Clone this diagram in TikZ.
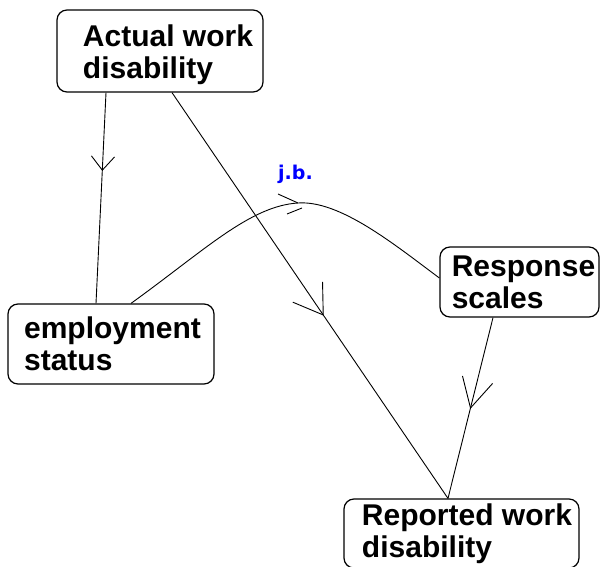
\documentclass[tikz,border=0pt]{standalone}
\usepackage{fontspec}
\setmainfont{Liberation Sans}
\newfontfamily\jbfont{DejaVu Sans}
\usetikzlibrary{decorations.markings,calc}
\begin{document}
\begin{tikzpicture}[x=1pt,y=-1pt,
  box/.style={draw, line width=1.2pt, rounded corners=10pt, inner sep=0pt, align=left,
    font=\fontsize{30}{32}\selectfont\bfseries},
  conn/.style={line width=0.9pt},
  barb/.style n args={3}{postaction={decorate},
    decoration={markings, mark=at position #1 with {\draw[line width=0.9pt] (180-#2:#3pt) -- (0,0) -- (180+#2:#3pt);}}},
]
\useasboundingbox (0,0) rectangle (600,567);

\node[box, minimum width=206pt, minimum height=82pt] (aw) at (160,51)
  {\hspace*{16pt}\rule{0pt}{30pt}Actual work\\\hspace*{16pt}disability};
\node[box, minimum width=206pt, minimum height=80pt] (es) at (111,344)
  {\hspace*{3pt}employment\\\hspace*{3pt}status};
\node[box, minimum width=159pt, minimum height=70pt] (rs) at (519.5,282)
  {\hspace*{8pt}Response\\\hspace*{8pt}scales};
\node[box, minimum width=235pt, minimum height=69pt] (rw) at (461.5,533.5)
  {\hspace*{11pt}Reported work\\\hspace*{11pt}disability};

\draw[conn, barb={0.368}{40}{18}] ([xshift=-54pt]aw.south) -- ([xshift=-15pt]es.north);
\draw[conn, barb={0.548}{33}{33}] ([xshift=12pt]aw.south) -- ([xshift=-13.5pt]rw.north);
\draw[conn, barb={0.5}{28}{33}] ([xshift=-26.5pt]rs.south) -- ([xshift=-13.5pt]rw.north);

\coordinate (tip) at (298,203);
\draw[conn] ([xshift=20pt]es.north) .. controls (205,250) and (250,206) .. (tip)
  .. controls (340,200) and (395,245) .. ([yshift=4pt]rs.west);
\draw[conn] ($(tip)+(-20,-9)$) -- (tip);
\draw[conn] ($(tip)+(-11,11)$) -- ($(tip)+(4,5)$);

\node[text=blue, font=\jbfont\bfseries\fontsize{19}{21}\selectfont, anchor=base] (jb) at (295.5,179) {j.b.};
\end{tikzpicture}
\end{document}
